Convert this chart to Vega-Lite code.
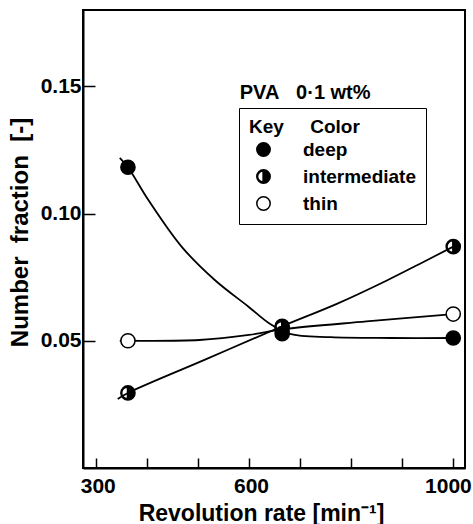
{
  "$schema": "https://vega.github.io/schema/vega-lite/v6.json",
  "width": 382,
  "height": 458,
  "autosize": {"type": "none"},
  "padding": {"left": 83, "top": 10, "right": 8, "bottom": 56},
  "background": "white",
  "config": {
    "font": "Liberation Sans",
    "view": {"stroke": "black", "strokeWidth": 2},
    "axis": {
      "domainColor": "black",
      "domainWidth": 2,
      "tickColor": "black",
      "tickWidth": 1.5,
      "grid": false,
      "labelFont": "Liberation Sans",
      "labelFontSize": 21,
      "labelFontWeight": "bold",
      "labelColor": "black",
      "titleFont": "Liberation Sans",
      "titleFontWeight": "bold",
      "titleColor": "black"
    }
  },
  "datasets": {
    "points": [
      {"rpm": 363, "fraction": 0.05, "color": "thin"},
      {"rpm": 665, "fraction": 0.0548, "color": "thin"},
      {"rpm": 1000, "fraction": 0.0605, "color": "thin"},
      {"rpm": 363, "fraction": 0.1182, "color": "deep"},
      {"rpm": 665, "fraction": 0.0528, "color": "deep"},
      {"rpm": 1000, "fraction": 0.0511, "color": "deep"},
      {"rpm": 363, "fraction": 0.0295, "color": "intermediate"},
      {"rpm": 665, "fraction": 0.0557, "color": "intermediate"},
      {"rpm": 1000, "fraction": 0.087, "color": "intermediate"}
    ],
    "curves": [
      {"rpm": 347, "fraction": 0.1219, "color": "deep"},
      {"rpm": 363, "fraction": 0.1182, "color": "deep"},
      {"rpm": 403, "fraction": 0.1053, "color": "deep"},
      {"rpm": 468, "fraction": 0.087, "color": "deep"},
      {"rpm": 533, "fraction": 0.0739, "color": "deep"},
      {"rpm": 599, "fraction": 0.0634, "color": "deep"},
      {"rpm": 640, "fraction": 0.0568, "color": "deep"},
      {"rpm": 680, "fraction": 0.0527, "color": "deep"},
      {"rpm": 760, "fraction": 0.0514, "color": "deep"},
      {"rpm": 880, "fraction": 0.0511, "color": "deep"},
      {"rpm": 1000, "fraction": 0.0511, "color": "deep"},
      {"rpm": 343, "fraction": 0.0271, "color": "intermediate"},
      {"rpm": 363, "fraction": 0.0295, "color": "intermediate"},
      {"rpm": 514, "fraction": 0.0426, "color": "intermediate"},
      {"rpm": 665, "fraction": 0.0557, "color": "intermediate"},
      {"rpm": 772, "fraction": 0.0645, "color": "intermediate"},
      {"rpm": 870, "fraction": 0.0737, "color": "intermediate"},
      {"rpm": 935, "fraction": 0.0803, "color": "intermediate"},
      {"rpm": 1000, "fraction": 0.087, "color": "intermediate"},
      {"rpm": 347, "fraction": 0.05, "color": "thin"},
      {"rpm": 363, "fraction": 0.05, "color": "thin"},
      {"rpm": 503, "fraction": 0.0503, "color": "thin"},
      {"rpm": 600, "fraction": 0.0523, "color": "thin"},
      {"rpm": 665, "fraction": 0.0545, "color": "thin"},
      {"rpm": 830, "fraction": 0.0576, "color": "thin"},
      {"rpm": 1000, "fraction": 0.0605, "color": "thin"}
    ],
    "note": [
      {"rpm": 582, "fraction": 0.1474, "text": "PVA\u00a0\u00a0\u00a00·1\u00a0wt%"}
    ]
  },
  "encoding": {
    "x": {
      "field": "rpm",
      "type": "quantitative",
      "scale": {"domain": [275, 1023], "nice": false, "zero": false},
      "axis": {
        "title": "Revolution rate [min\u207b\u00b9]",
        "titleFontSize": 23,
        "values": [300, 400, 500, 600, 700, 800, 900, 1000],
        "labelExpr": "datum.value == 300 || datum.value == 600 || datum.value == 1000 ? datum.label : ''",
        "format": "d",
        "labelAlign": {"condition": {"test": "datum.value == 1000", "value": "right"}, "value": "center"},
        "labelOffset": {"condition": {"test": "datum.value == 1000", "value": 18}, "value": 2},
        "tickSize": -10,
        "labelPadding": 17,
        "titlePadding": 6,
        "titleX": 178
      }
    },
    "y": {
      "field": "fraction",
      "type": "quantitative",
      "scale": {"domain": [0, 0.18], "nice": false},
      "axis": {
        "title": "Number\u00a0\u00a0fraction\u00a0\u00a0[-]",
        "titleFontSize": 24,
        "values": [0.05, 0.1, 0.15],
        "format": ".2f",
        "tickSize": -12,
        "labelPadding": 14,
        "titlePadding": 8,
        "titleY": 222
      }
    }
  },
  "layer": [
    {
      "data": {"name": "curves"},
      "mark": {"type": "line", "interpolate": "catmull-rom", "color": "black", "strokeWidth": 1.8},
      "encoding": {"detail": {"field": "color"}}
    },
    {
      "data": {"name": "points"},
      "mark": {"type": "point", "filled": false, "size": 200, "stroke": "black", "strokeWidth": 1.5, "opacity": 1},
      "encoding": {
        "shape": {
          "field": "color",
          "type": "nominal",
          "sort": ["deep", "intermediate", "thin"],
          "scale": {
            "domain": ["deep", "intermediate", "thin"],
            "range": ["circle", "M0,-1A1,1,0,1,1,0,1A1,1,0,1,1,0,-1ZM-0.06,-0.82A0.82,0.82,0,0,0,-0.06,0.82Z", "circle"]
          },
          "legend": {
            "title": "Key\u00a0\u00a0\u00a0\u00a0\u00a0Color",
            "orient": "none",
            "legendX": 156,
            "legendY": 98,
            "strokeColor": "black",
            "padding": 10,
            "titleFont": "Liberation Sans",
            "titleFontSize": 19,
            "titleFontWeight": "bold",
            "titleColor": "black",
            "titlePadding": 3,
            "labelFont": "Liberation Sans",
            "labelFontSize": 19,
            "labelFontWeight": "bold",
            "labelColor": "black",
            "labelOffset": 30,
            "symbolOffset": 5,
            "rowPadding": 6,
            "symbolSize": 180,
            "symbolStrokeColor": "black",
            "symbolStrokeWidth": 1.5,
            "symbolOpacity": 1,
            "encode": {"symbols": {"update": {"stroke": {"value": "black"}, "strokeWidth": {"value": 1.5}}}}
          }
        },
        "fill": {
          "field": "color",
          "type": "nominal",
          "sort": ["deep", "intermediate", "thin"],
          "scale": {"domain": ["deep", "intermediate", "thin"], "range": ["black", "black", "white"]},
          "legend": {
            "title": "Key\u00a0\u00a0\u00a0\u00a0\u00a0Color",
            "orient": "none",
            "legendX": 156,
            "legendY": 98,
            "strokeColor": "black",
            "padding": 10,
            "titleFont": "Liberation Sans",
            "titleFontSize": 19,
            "titleFontWeight": "bold",
            "titleColor": "black",
            "titlePadding": 3,
            "labelFont": "Liberation Sans",
            "labelFontSize": 19,
            "labelFontWeight": "bold",
            "labelColor": "black",
            "labelOffset": 30,
            "symbolOffset": 5,
            "rowPadding": 6,
            "symbolSize": 180,
            "symbolStrokeColor": "black",
            "symbolStrokeWidth": 1.5,
            "symbolOpacity": 1,
            "encode": {"symbols": {"update": {"stroke": {"value": "black"}, "strokeWidth": {"value": 1.5}}}}
          }
        }
      }
    },
    {
      "data": {"name": "note"},
      "mark": {"type": "text", "align": "left", "baseline": "middle", "font": "Liberation Sans", "fontSize": 20, "fontWeight": "bold", "color": "black"},
      "encoding": {"text": {"field": "text"}}
    }
  ]
}
